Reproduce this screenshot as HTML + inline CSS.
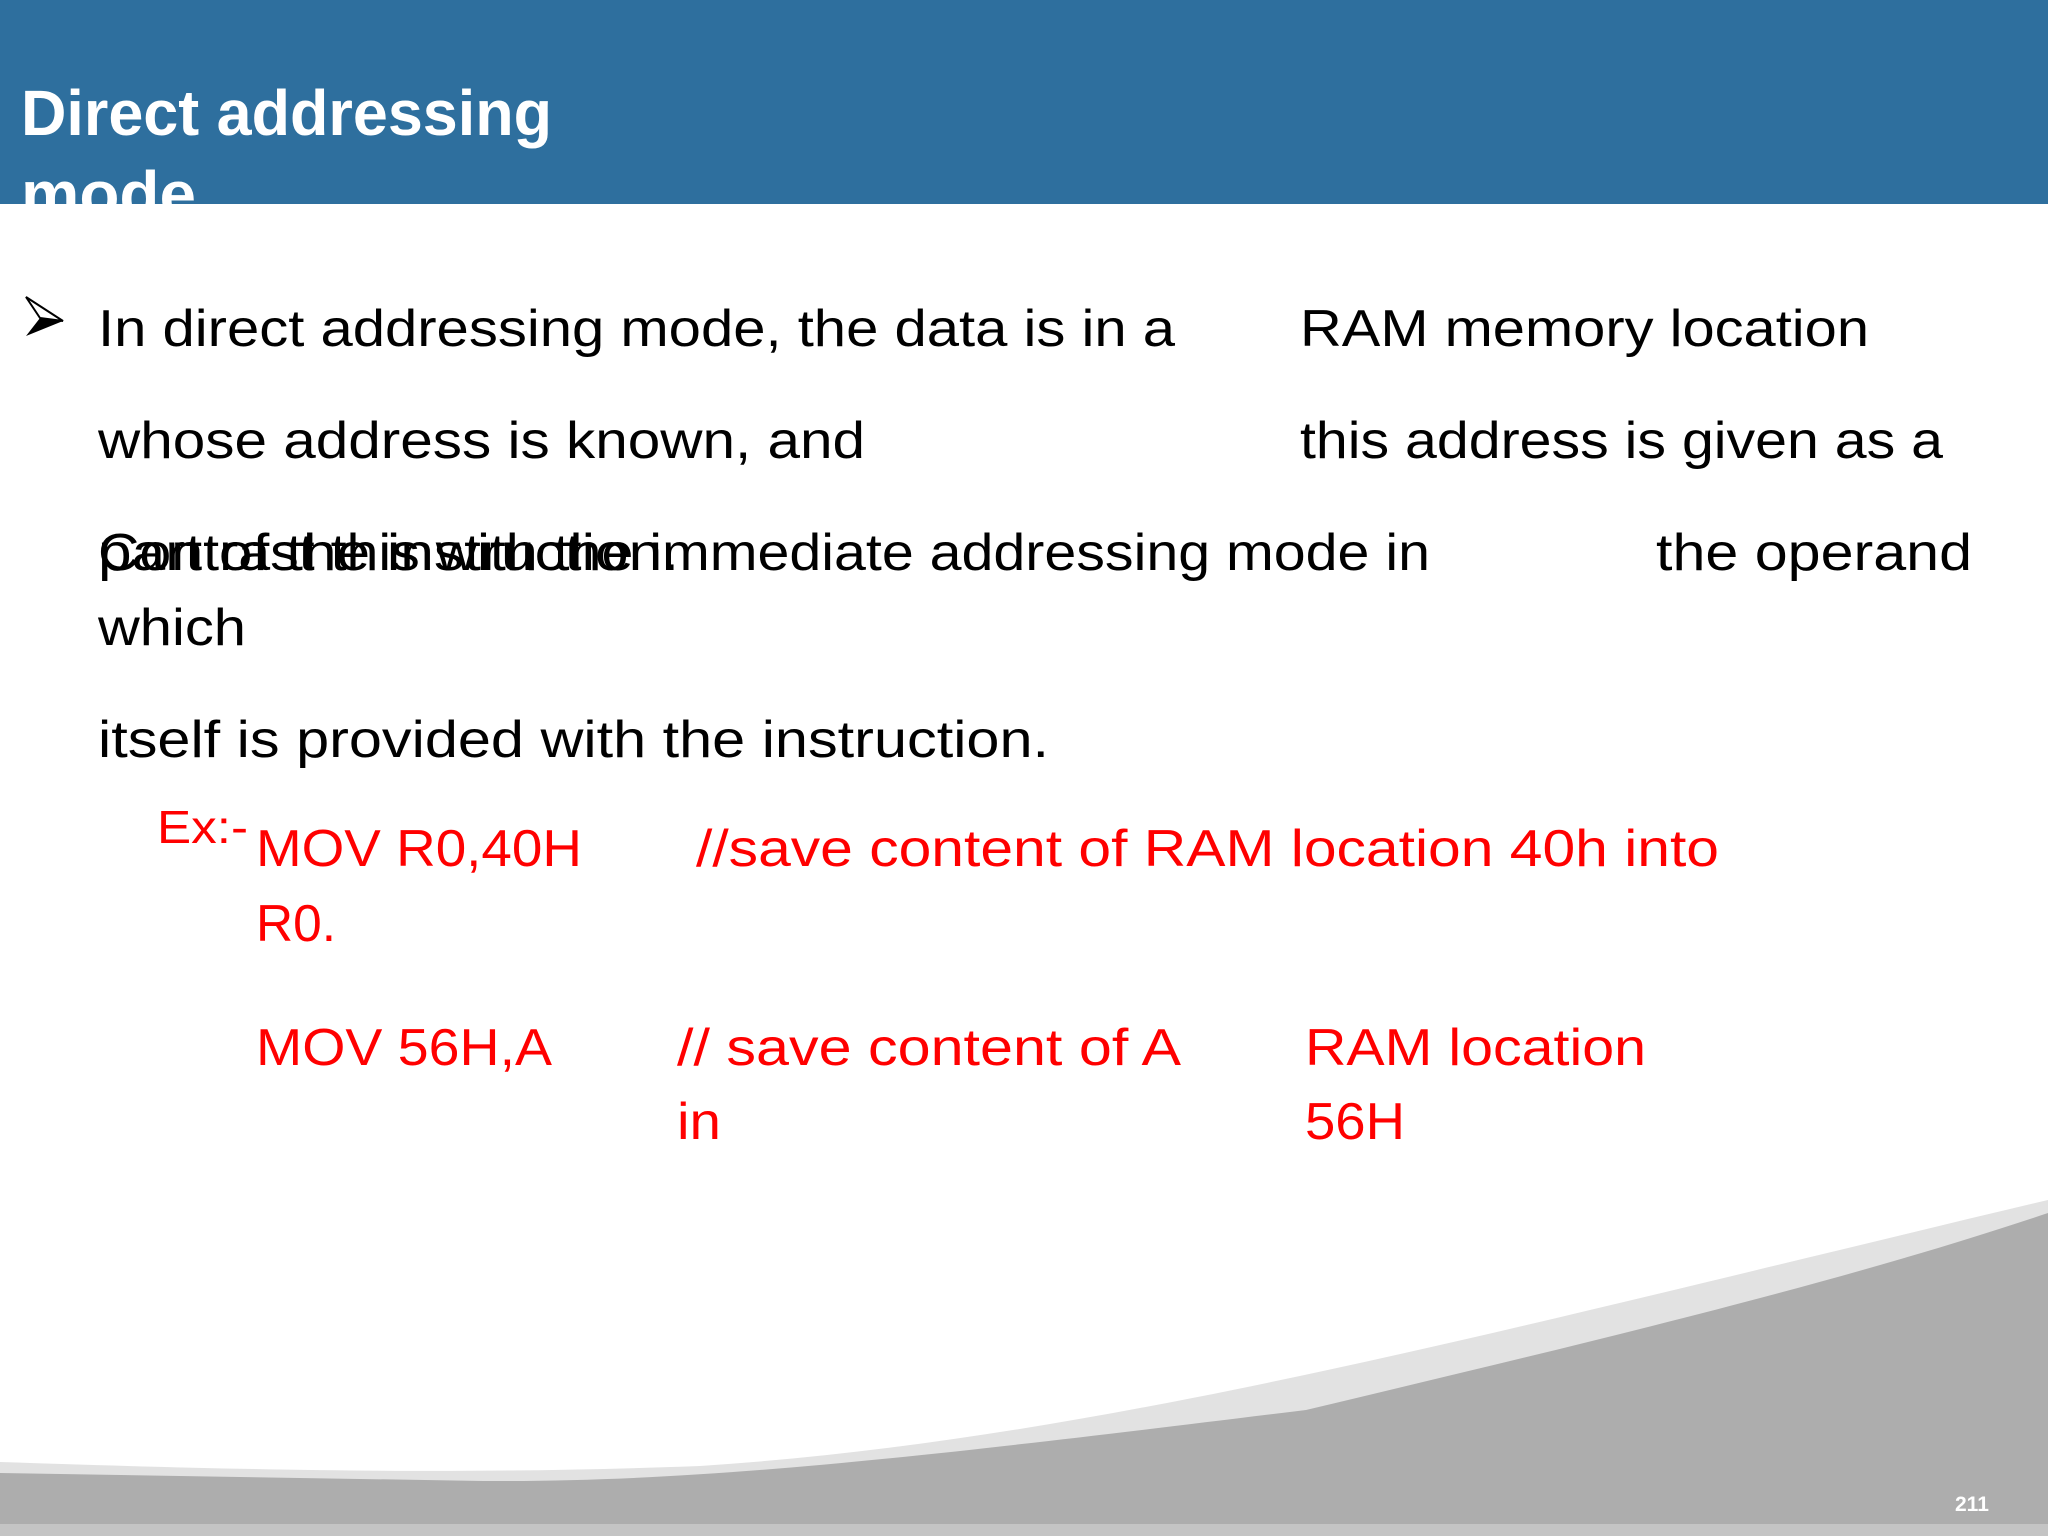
<!DOCTYPE html>
<html><head><meta charset="utf-8"><style>
html,body{margin:0;padding:0;background:#fff;}
svg{display:block;}
text{font-family:"Liberation Sans",sans-serif;}
</style></head><body>
<svg width="2048" height="1536" viewBox="0 0 2048 1536" xmlns="http://www.w3.org/2000/svg">
<defs>
<clipPath id="hc"><rect x="0" y="0" width="2048" height="204"/></clipPath>
<linearGradient id="sh" x1="0" y1="0" x2="0" y2="1"><stop offset="0" stop-color="#fff"/><stop offset="1" stop-color="#d8d8d8"/></linearGradient>
</defs>
<rect x="0" y="0" width="2048" height="204" fill="#2e6f9e"/>
<g clip-path="url(#hc)" fill="#fff" font-weight="bold" font-size="64">
<text x="21" y="135" textLength="531" lengthAdjust="spacingAndGlyphs">Direct addressing</text>
<text x="21" y="216" textLength="175" lengthAdjust="spacingAndGlyphs">mode</text>
</g>
<!-- bottom wave -->
<path d="M0 1462 C300 1472 480 1474 700 1466 C1100 1440 1500 1330 2048 1200 L2048 1536 L0 1536 Z" fill="#e2e2e2"/>
<path d="M0 1473 L483 1481 C700 1482 900 1460 1306 1410 C1600 1340 1850 1280 2048 1213 L2048 1536 L0 1536 Z" fill="#adadad"/>
<rect x="0" y="1524" width="2048" height="12" fill="#c4c4c4"/>
<text x="1955" y="1511" font-size="21" font-weight="bold" fill="#fff">211</text>
<!-- bullet -->
<polygon points="26,297 63,321 26,336 40,318" fill="#000"/>
<polygon points="26,297 63,321 40,318" fill="#fff" stroke="#000" stroke-width="2"/>
<g font-size="52" fill="#000">
<text x="98" y="346" textLength="1077" lengthAdjust="spacingAndGlyphs">In direct addressing mode, the data is in a</text>
<text x="1300" y="346" textLength="569" lengthAdjust="spacingAndGlyphs">RAM memory location</text>
<text x="98" y="458" textLength="767" lengthAdjust="spacingAndGlyphs">whose  address is known, and</text>
<text x="1300" y="458" textLength="643" lengthAdjust="spacingAndGlyphs">this address is given as a</text>
<text x="98" y="570" textLength="581" lengthAdjust="spacingAndGlyphs">part of the instruction.</text>
<text x="98" y="570" textLength="1332" lengthAdjust="spacingAndGlyphs">Contrast this with the immediate addressing mode in</text>
<text x="1656" y="570" textLength="316" lengthAdjust="spacingAndGlyphs">the operand</text>
<text x="98" y="645" textLength="148" lengthAdjust="spacingAndGlyphs">which</text>
<text x="98" y="757" textLength="951" lengthAdjust="spacingAndGlyphs">itself  is provided with the instruction.</text>
</g>
<g fill="#ff0000" font-size="52">
<text x="157" y="843" font-size="46" textLength="91" lengthAdjust="spacingAndGlyphs">Ex:-</text>
<text x="256" y="866" textLength="326" lengthAdjust="spacingAndGlyphs">MOV R0,40H</text>
<text x="696" y="866" textLength="1023" lengthAdjust="spacingAndGlyphs">//save content of RAM location 40h into</text>
<text x="256" y="941" textLength="80" lengthAdjust="spacingAndGlyphs">R0.</text>
<text x="256" y="1065" textLength="296" lengthAdjust="spacingAndGlyphs">MOV 56H,A</text>
<text x="677" y="1065" textLength="504" lengthAdjust="spacingAndGlyphs">// save content of A</text>
<text x="677" y="1139" textLength="44" lengthAdjust="spacingAndGlyphs">in</text>
<text x="1305" y="1065" textLength="341" lengthAdjust="spacingAndGlyphs">RAM location</text>
<text x="1305" y="1139" textLength="100" lengthAdjust="spacingAndGlyphs">56H</text>
</g>
</svg>
</body></html>
